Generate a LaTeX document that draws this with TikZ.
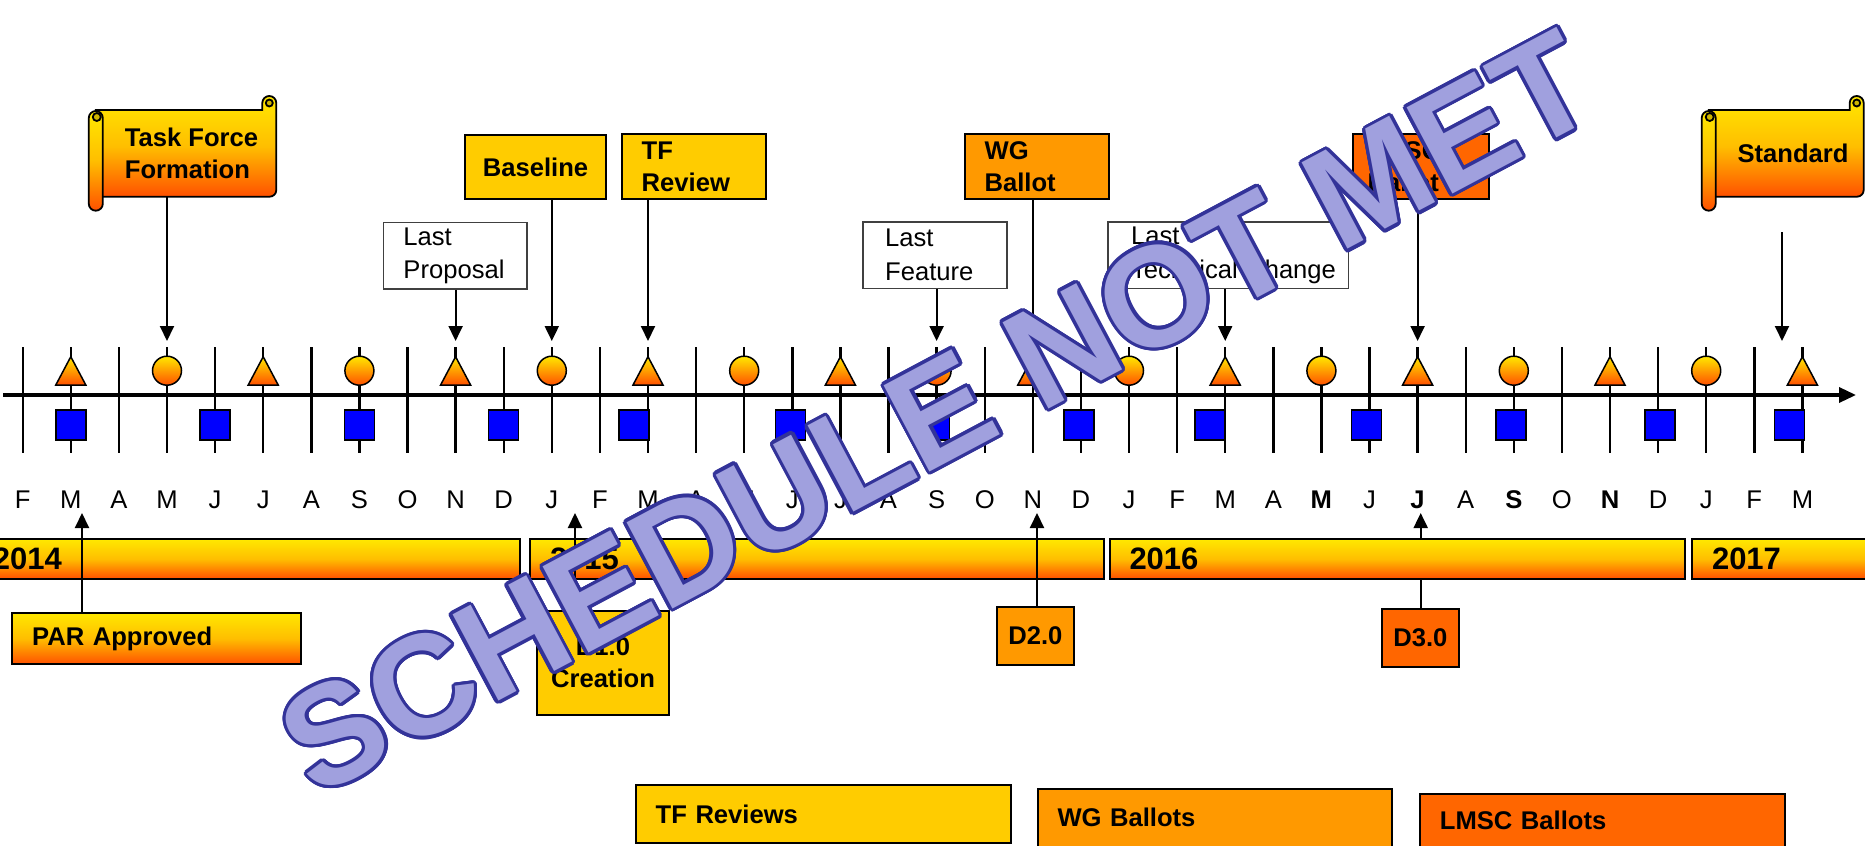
\documentclass[tikz,border=0pt]{standalone}
\usepackage{fontspec}
\setmainfont{Liberation Sans}
\usepackage{contour}
\usetikzlibrary{arrows.meta}

\definecolor{boxgold}{RGB}{255,204,0}
\definecolor{boxorange}{RGB}{255,153,0}
\definecolor{boxred}{RGB}{255,102,0}
\definecolor{shadetop}{RGB}{255,232,0}
\definecolor{shademid}{RGB}{255,190,0}
\definecolor{shadebot}{RGB}{255,80,0}
\definecolor{curl}{RGB}{205,180,0}
\definecolor{sqblue}{RGB}{0,0,255}
\definecolor{wmfill}{RGB}{160,160,222}
\definecolor{wmline}{RGB}{51,51,153}

\contourlength{1.6pt}
\contournumber{24}

\begin{document}
\begin{tikzpicture}[x=0.5pt, y=-0.5pt,
  tickline/.style={line width=1.2pt},
  timeaxis/.style={line width=1.7pt, -{Triangle[length=8.5pt,width=7.5pt]}},
  pointer/.style={line width=1pt, -{Triangle[length=7.5pt,width=7pt]}},
  grad/.style={top color=shadetop, bottom color=shadebot, middle color=shademid},
  msym/.style={draw, line width=0.75pt, top color=shadetop, bottom color=shadebot},
  sqsym/.style={draw, line width=0.75pt, fill=sqblue},
  monthlbl/.style={font=\fontsize{12.8pt}{15pt}\selectfont, anchor=base},
  ballotbox/.style={draw, line width=1pt, anchor=north west, inner ysep=0pt, font=\bfseries\fontsize{12.8pt}{16pt}\selectfont},
  notebox/.style={draw=black!75, line width=0.75pt, fill=white, anchor=north west, inner ysep=0pt, align=left, font=\fontsize{12.8pt}{16.8pt}\selectfont},
  scrolltext/.style={align=left, inner sep=0pt, font=\bfseries\fontsize{12.8pt}{16pt}\selectfont},
  yearbar/.style={draw, line width=1pt, grad, anchor=north west, minimum height=19.7pt, inner ysep=0pt, inner xsep=10pt, align=left, font=\bfseries\fontsize{15.5pt}{18pt}\selectfont},
  wmark/.style={font=\bfseries\fontsize{71pt}{78pt}\selectfont, text=wmfill, rotate=28, inner sep=0pt}
]
\useasboundingbox (0,0) rectangle (1865,846);

% Month ticks
\foreach \k in {0,...,37} {
  \pgfmathsetmacro{\xk}{22.7+48.1*\k}
  \draw[tickline] (\xk,347) -- (\xk,453);
}
% Time axis
\draw[timeaxis] (3,395) -- (1856,395);

% Triangles every 4 months
\foreach \k in {1,5,...,37} {
  \pgfmathsetmacro{\xk}{22.7+48.1*\k}
  \shade[msym] (\xk,356.7) -- (\xk+15,385) -- (\xk-15,385) -- cycle;
}
% Circles every 4 months
\foreach \k in {3,7,...,35} {
  \pgfmathsetmacro{\xk}{22.7+48.1*\k}
  \shade[msym] (\xk,370.7) circle (14.5);
}
% Squares every 3 months (some sit left of the tick)
\foreach \k/\dx in {1/0,4/0,7/0,10/0,13/-14,16/-2,19/-2,22/-2,25/-15,28/-3,31/-3,34/2,37/-13} {
  \pgfmathsetmacro{\xk}{22.7+48.1*\k+(\dx)}
  \draw[sqsym] (\xk-15,410) rectangle (\xk+15,440);
}

% Arrow tips above the milestones
\foreach \k in {3,9,11,13,19,21,25,29} {
  \coordinate (tip\k) at (22.7+48.1*\k,341);
}

% Scrolls
\foreach \xa/\xb in {88.8/276.3, 1701.7/1863.7} {
  \shade[draw, line width=0.9pt, grad] (\xa+7,110) -- (\xb-14,110) -- (\xb-14,103) arc (180:360:7) -- (\xb,190) arc (0:90:6.7) -- (\xa+7,196.7) -- cycle;
  \draw[line width=0.9pt, fill=curl] (\xb-7,103) circle (3.5);
  \shade[draw, line width=0.9pt, grad] (\xa,118) -- (\xa,203.7) arc (180:0:7) -- (\xa+14,118) arc (0:-180:7) -- cycle;
  \draw[line width=0.9pt, fill=curl] (\xa+8,117) circle (4);
}
\node[scrolltext] (tff) at (191.5,153.4) {Task Force\\Formation};
\node[scrolltext] (std) at (1793,153) {Standard};
\coordinate (tffbot) at (167,196.7);
\coordinate (stdtop) at (1782,232);
\coordinate (stdtip) at (1782,341);

% Milestone boxes
\node[ballotbox, fill=boxgold, align=center, inner xsep=5pt, text width=60.5pt, minimum height=32.15pt] (baseline) at (464,134) {Baseline};
\node[ballotbox, fill=boxgold, align=left, inner xsep=10pt, text width=52.15pt, minimum height=32.5pt] (tfrev) at (620.7,133.3) {TF\\Review};
\node[ballotbox, fill=boxorange, align=left, inner xsep=10pt, text width=51.95pt, minimum height=32.5pt] (wgbal) at (963.6,133.3) {WG\\Ballot};
\node[ballotbox, fill=boxred, align=left, inner xsep=7.5pt, text width=53.3pt, minimum height=32.5pt] (lmscbal) at (1351.7,133.3) {LMSC\\Ballot};
\node[notebox, inner xsep=10pt, text width=51.75pt, minimum height=33.3pt] (lastprop) at (382.7,221.7) {Last\\Proposal};
\node[notebox, inner xsep=11pt, text width=49.95pt, minimum height=33.35pt] (lastfeat) at (862.4,221) {Last\\Feature};
\node[notebox, inner xsep=11.5pt, text width=97.2pt, minimum height=33.35pt] (lasttech) at (1107.3,221) {Last\\Technical~Change};

% Arrows down to the axis
\draw[pointer] (tffbot) -- (tip3);
\draw[pointer] (lastprop.south -| tip9) -- (tip9);
\draw[pointer] (baseline.south -| tip11) -- (tip11);
\draw[pointer] (tfrev.south -| tip13) -- (tip13);
\draw[pointer] (lastfeat.south -| tip19) -- (tip19);
\draw[pointer] (wgbal.south -| tip21) -- (tip21);
\draw[pointer] (lasttech.south -| tip25) -- (tip25);
\draw[pointer] (lmscbal.south -| tip29) -- (tip29);
\draw[pointer] (stdtop) -- (stdtip);

% Month labels
\foreach \m [count=\k from 0] in {F,M,A,M,J,J,A,S,O,N,D,J,F,M,A,M,J,J,A,S,O,N,D,J,F,M,A,\textbf{M},J,\textbf{J},A,\textbf{S},O,\textbf{N},D,J,F,M} {
  \pgfmathsetmacro{\xk}{22.7+48.1*\k}
  \node[monthlbl] (mo\k) at (\xk,508) {\m};
}

% Draft boxes below the years
\coordinate (partip) at (82,513);
\coordinate (d10tip) at (575,513);
\coordinate (d20tip) at (1037,513);
\coordinate (d30tip) at (1420.7,513);
\node[ballotbox, fill=boxred, align=center, inner xsep=2pt, text width=34.4pt, minimum height=29.15pt] (d30) at (1381,607.7) {D3.0};
\draw[pointer] (d30.north -| d30tip) -- (d30tip);

% Years
\node[yearbar, text width=253.5pt] (y2014) at (-28,538.3) {2014};
\node[yearbar, text width=267pt] (y2015) at (529,538.3) {2015};
\node[yearbar, text width=267.65pt] (y2016) at (1108.5,538.3) {2016};
\node[yearbar, text width=77pt] (y2017) at (1691,538.3) {2017};

\node[ballotbox, grad, align=left, inner xsep=10pt, text width=124.4pt, minimum height=25.8pt] (par) at (11.2,611.7) {PAR Approved};
\node[ballotbox, fill=boxgold, align=center, inner xsep=5pt, text width=56.3pt, minimum height=52.15pt] (d10) at (535.7,610) {D1.0\\Creation};
\node[ballotbox, fill=boxorange, align=center, inner xsep=2pt, text width=34.4pt, minimum height=29.3pt] (d20) at (996,605.7) {D2.0};
\draw[pointer] (par.north -| partip) -- (partip);
\draw[pointer] (d10.north -| d10tip) -- (d10tip);
\draw[pointer] (d20.north -| d20tip) -- (d20tip);

% Review and ballot periods
\node[ballotbox, fill=boxgold, align=left, inner xsep=10pt, text width=167.55pt, minimum height=29.15pt] (tfrevs) at (634.7,784) {TF Reviews};
\node[ballotbox, fill=boxorange, align=left, inner xsep=10pt, text width=157.05pt, minimum height=29pt] (wgbals) at (1036.5,787.7) {WG Ballots};
\node[ballotbox, fill=boxred, align=left, inner xsep=10pt, text width=162.3pt, minimum height=26.5pt] (lmscbals) at (1418.9,792.7) {LMSC Ballots};

% Stamp
\node[wmark] (stamp) at (938,414) {\contour{wmline}{SCHEDULE NOT MET}};

\end{tikzpicture}
\end{document}
